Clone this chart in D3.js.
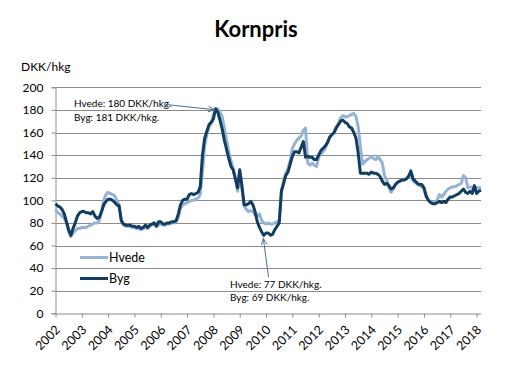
<!DOCTYPE html>
<html><head><meta charset="utf-8">
<script src="https://cdn.jsdelivr.net/npm/d3@7"></script>
<style>
body{margin:0;background:#fff;}
text{font-family:Lato,"Open Sans",sans-serif;fill:#000;}
</style></head>
<body><svg id="c" width="512" height="366"></svg>
<script>
const startYear = 2002;
const yTicks = [0,20,40,60,80,100,120,140,160,180,200];
const yearLabels = ["2002","2003","2004","2005","2006","2007","2008","2009","2010","2011","2012","2013","2014","2015","2016","2017","2018"];
const seriesNames = ["Hvede","Byg"];
const byg = [
97,95,94,92,88,81,74,69,75,80,86,89,
90,90,89,89,88,90,86,84,85,90,96,99,
101,101,100,98,96,95,82,79,78,78,78,77,
77,76,77,75,76,78,76,78,79,80,77,81,
81,79,79,80,80,81,81,82,88,96,100,101,
101,105,106,105,106,107,112,140,155,161,167,169,
172,181,178,171,163,153,145,137,130,127,119,111,
127,113,96,96,97,99,96,90,81,76,72,69,
71,71,69,70,74,77,80,108,115,122,125,132,
139,143,143,142,147,152,138,139,138,138,136,136,
140,144,146,148,151,156,158,160,164,167,170,171,
169,168,165,164,160,155,142,124,124,124,124,123,
125,124,124,123,121,117,114,115,113,110,111,114,
116,117,118,118,119,121,126,119,117,115,114,114,
111,104,100,98,97,97,98,99,98,99,98,101,
103,103,104,105,106,108,110,107,106,108,106,113,
106,108,109];
const hvede = [
92,89,88,86,84,80,72,68,71,73,75,75,
76,76,76,77,78,79,80,80,82,90,100,105,
107,106,105,104,100,96,82,78,77,77,77,76,
76,75,75,74,75,76,75,77,78,79,77,78,
79,78,78,79,79,80,80,81,85,93,96,97,
98,99,100,100,101,102,105,125,148,158,165,168,
176,180,181,178,174,164,154,143,135,128,120,108,
118,110,95,92,90,91,90,87,86,88,82,80,
79,80,79,79,80,81,82,108,117,124,128,135,
146,150,153,155,157,162,164,133,131,133,131,130,
138,141,143,146,151,155,158,160,165,168,173,175,
174,174,175,176,177,174,165,148,132,134,136,137,
139,137,136,139,136,133,122,118,111,107,110,114,
116,117,118,118,119,122,125,117,116,114,113,112,
110,103,100,99,98,97,100,105,103,105,108,110,
111,112,112,113,114,115,122,120,111,112,111,111,
111,111,111];
const annoTop = ["Hvede: 180 DKK/hkg.","Byg: 181 DKK/hkg."];
const annoBottom = ["Hvede: 77 DKK/hkg.","Byg: 69 DKK/hkg."];

const colors = {Hvede:"#95B3D7", Byg:"#123C60"};
const svg = d3.select("#c");
const x = d3.scaleLinear().domain([0, byg.length-1]).range([55.5, 481]);
const y = d3.scaleLinear().domain([0,200]).range([313.3, 87.3]);
const gridColor = "#8c8c8c";

// title
svg.append("text").attr("x",256).attr("y",37).attr("text-anchor","middle")
  .style("font-size","22px").style("font-weight","bold").text("Kornpris");
svg.append("text").attr("x",21).attr("y",71).style("font-size","12px").text("DKK/hkg");

// gridlines
svg.append("g").selectAll("line").data(yTicks.filter(d=>d>0)).join("line")
  .attr("x1",55.5).attr("x2",481).attr("y1",d=>Math.round(y(d))+0.5).attr("y2",d=>Math.round(y(d))+0.5)
  .attr("stroke",gridColor).attr("stroke-width",1);

// y axis
const yAxis = d3.axisLeft(y).tickValues(yTicks).tickSize(4).tickPadding(8);
const gy = svg.append("g").attr("transform","translate(55.5,0)").call(yAxis);
gy.selectAll("path,line").attr("stroke",gridColor);
gy.selectAll("text").style("font-size","12px").style("font-family","Lato").attr("fill","#000");

// x axis
const xTickVals = yearLabels.map((d,i)=>i*12);
const xAxis = d3.axisBottom(x).tickValues(xTickVals).tickSize(4).tickFormat((d,i)=>yearLabels[i]);
const gx = svg.append("g").attr("transform","translate(0,"+(Math.round(y(0))+0.5)+")").call(xAxis);
gx.select("path").attr("stroke",gridColor).attr("d","M55.5,0.5H481");
gx.selectAll("line").attr("stroke",gridColor);
gx.selectAll("text").style("font-size","12.5px").style("font-family","Lato")
  .attr("text-anchor","end").attr("dy","0").attr("y",0)
  .attr("transform","translate(5,17) rotate(-45)");

// lines
const line = d3.line().x((d,i)=>x(i)).y(d=>y(d));
svg.append("path").datum(hvede).attr("d",line).attr("fill","none")
  .attr("stroke",colors.Hvede).attr("stroke-width",3).attr("stroke-linejoin","round");
svg.append("path").datum(byg).attr("d",line).attr("fill","none")
  .attr("stroke",colors.Byg).attr("stroke-width",3).attr("stroke-linejoin","round");

// legend
const leg = svg.append("g");
seriesNames.forEach((n,i)=>{
  const yy = 257.5 + i*21;
  leg.append("line").attr("x1",80).attr("x2",108).attr("y1",yy).attr("y2",yy)
    .attr("stroke",colors[n]).attr("stroke-width",3);
  leg.append("text").attr("x",109).attr("y",yy+4.5).style("font-size","12.5px").text(n);
});

// annotations
const arrowColor = "#4a6d9e";
function arrow(x1,y1,x2,y2){
  svg.append("line").attr("x1",x1).attr("y1",y1).attr("x2",x2).attr("y2",y2)
    .attr("stroke",arrowColor).attr("stroke-width",1);
  const a = Math.atan2(y2-y1,x2-x1), L=7, w=0.4;
  const p = (ang)=>[x2-L*Math.cos(ang), y2-L*Math.sin(ang)];
  const p1=p(a+w), p2=p(a-w);
  svg.append("path").attr("d",`M${p1[0]},${p1[1]}L${x2},${y2}L${p2[0]},${p2[1]}`)
    .attr("fill","none").attr("stroke",arrowColor).attr("stroke-width",1);
}
annoTop.forEach((t,i)=>svg.append("text").attr("x",74).attr("y",107+i*13.5).style("font-size","10px").text(t));
annoBottom.forEach((t,i)=>svg.append("text").attr("x",230).attr("y",288+i*12.8).style("font-size","10px").text(t));
arrow(166,104.5,x(73)-1,y(181)+1);
arrow(268.5,277,x(95)-0.5,y(69)+3);
</script></body></html>
